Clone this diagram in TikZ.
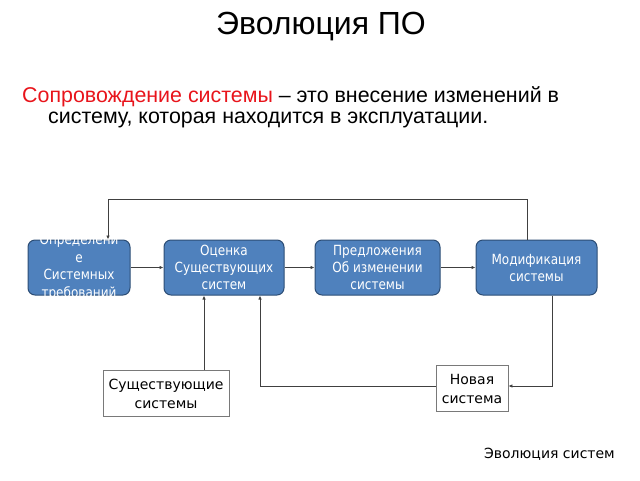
\documentclass[tikz,border=0pt]{standalone}
\usepackage{fontspec}
\setmainfont{Liberation Sans}
\newfontfamily\boxfont[FakeStretch=0.86]{DejaVu Sans}
\newfontfamily\capfont{DejaVu Sans}
\usetikzlibrary{arrows.meta}
\definecolor{procfill}{HTML}{4F81BD}
\definecolor{procline}{HTML}{2C4D75}
\definecolor{connline}{HTML}{404040}
\definecolor{deftext}{HTML}{E8141B}
\tikzset{
	procbox/.style={draw=procline, fill=procfill, line width=1pt, rounded corners=7pt,
		minimum height=55, inner sep=0pt, text=white, align=center,
		font=\boxfont\fontsize{14}{17}\selectfont},
	databox/.style={draw=connline!70, fill=white, line width=0.8pt, inner sep=0pt,
		align=center, font=\capfont\fontsize{14}{19}\selectfont},
	conn/.style={draw=connline, line width=0.8pt, -{Latex[length=4pt,width=3.5pt]}}
}
\begin{document}
\begin{tikzpicture}[x=1pt,y=-1pt]
	\useasboundingbox (0,0) rectangle (640,480);
	%Title and definition
	\node (title) at (321,27) {\fontsize{32}{36}\selectfont Эволюция ПО};
	\node[anchor=west, inner sep=0pt] (def1) at (22,97) {\fontsize{21.4}{24}\selectfont\textcolor{deftext}{Сопровождение системы} -- это внесение изменений в};
	\node[anchor=west, inner sep=0pt] (def2) at (48,120) {\fontsize{21.4}{24}\selectfont систему, которая находится в эксплуатации.};
	
	%Process boxes
	\node[procbox, minimum width=102] (req) at (79,267.5) {};
	\begin{scope}
		\clip (req.south west) rectangle (req.north east);
		\node[text=white, align=center, font=\boxfont\fontsize{14}{17.5}\selectfont] (reqtext) at (req.center) {Определени\\е\\Системных\\требований};
	\end{scope}
	\node[procbox, minimum width=120] (eval) at (224,267.5) {Оценка\\Существующих\\систем};
	\node[procbox, minimum width=125] (prop) at (377.5,267.5) {Предложения\\Об изменении\\системы};
	\node[procbox, minimum width=121] (mod) at (536.5,267.5) {Модификация\\системы};
	
	%Input and output
	\node[databox, minimum width=126, minimum height=46] (exist) at (166,393.5) {Существующие\\системы};
	\node[databox, minimum width=72, minimum height=46] (new) at (472,388.5) {Новая\\система};
	
	%Connectors
	\draw[conn] (req) -- (eval);
	\draw[conn] (eval) -- (prop);
	\draw[conn] (prop) -- (mod);
	\coordinate (loop) at ([xshift=-9.5]mod.north);
	\draw[conn] (loop) -- ++(0,-40) -| ([xshift=29]req.north);
	\draw[conn] ([xshift=15.5]mod.south) |- ([yshift=2.5]new.east);
	\coordinate (back) at ([xshift=36]eval.south);
	\draw[conn] ([yshift=2.5]new.west) -| (back);
	\coordinate (extop) at ([xshift=38]exist.north);
	\draw[conn] (extop) -- (extop |- eval.south);
	
	\node[anchor=east, inner sep=0pt, font=\capfont\fontsize{14}{16}\selectfont] (caption) at (615,454) {Эволюция систем};
\end{tikzpicture}
\end{document}
